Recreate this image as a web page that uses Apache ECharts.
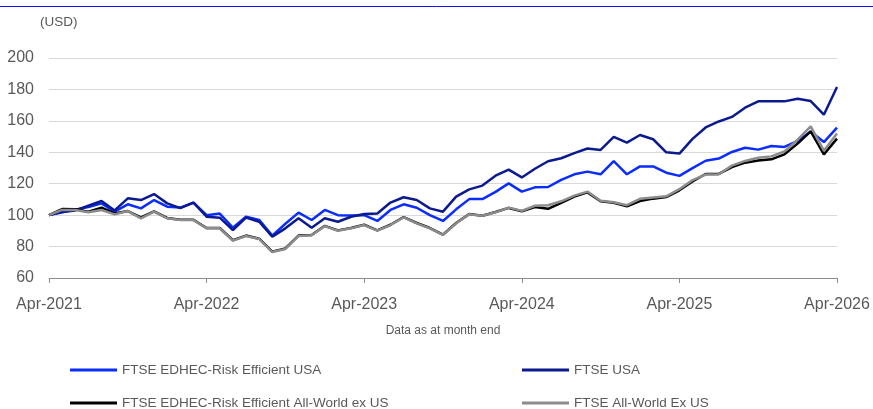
<!DOCTYPE html>
<html>
<head>
<meta charset="utf-8">
<script src="https://cdn.jsdelivr.net/npm/echarts@6/dist/echarts.min.js"></script>
<style>
  html, body { margin: 0; padding: 0; background: #fff; }
  #chart { width: 873px; height: 409px; }
</style>
</head>
<body>
<div id="chart"></div>
<script>
// month labels Apr-2021 .. Apr-2026
var monthNames = ['Jan', 'Feb', 'Mar', 'Apr', 'May', 'Jun', 'Jul', 'Aug', 'Sep', 'Oct', 'Nov', 'Dec'];
var months = [];
for (var k = 0; k <= 60; k++) {
    var m = (3 + k) % 12;
    var y = 2021 + Math.floor((3 + k) / 12);
    months.push(monthNames[m] + '-' + y);
}

var yTicks = [60, 80, 100, 120, 140, 160, 180, 200];

var seriesNames = [
    'FTSE EDHEC-Risk Efficient USA',
    'FTSE USA',
    'FTSE EDHEC-Risk Efficient All-World ex US',
    'FTSE All-World Ex US'
];

// FTSE EDHEC-Risk Efficient USA
var edhecUsa = [
    100, 101.8, 103.5, 105.2, 107.5, 102.2, 106.9, 104.3, 109.6, 105.4, 104.8, 108,
    100, 101, 92, 99, 97, 87, 94.5, 101.6, 96.9, 103.3, 100, 99.7,
    100, 96.3, 103.3, 106.9, 104.7, 100, 96.3, 103.7, 110.2, 110.2, 114.8, 120.2,
    115, 117.7, 117.9, 122.4, 126, 127.7, 126, 134.4, 126, 131, 131, 127,
    125, 129.9, 134.6, 136, 140.2, 142.9, 141.7, 144, 143.4, 147.2, 153.3, 146.5,
    155.7
];

// FTSE USA
var ftseUsa = [
    100, 102, 103, 106, 109, 103, 110.7, 109.6, 113.4, 107.5, 104.5, 108,
    99, 98.4, 90.5, 98.4, 95.8, 86.3, 91.6, 98, 92, 98, 95.8, 99,
    100.7, 101.1, 108, 111.4, 109.6, 104.3, 102.2, 111.8, 116.4, 118.8, 125.1, 129,
    124, 129.5, 134.3, 136.2, 139.5, 142.4, 141.5, 149.8, 146.2, 151, 148.3, 140,
    139.2, 148.5, 155.8, 159.6, 162.5, 168.4, 172.4, 172.4, 172.4, 174.1, 172.6, 163.9,
    181.5
];

// FTSE EDHEC-Risk Efficient All-World ex US
var edhecAwxUs = [
    100, 103.9, 103.7, 102.2, 104.8, 101.1, 102.6, 98.6, 102.4, 98.2, 97, 97,
    91.8, 91.8, 84, 87, 85, 76.8, 78.8, 87, 87.4, 93.2, 90.3, 91.8,
    93.9, 90.3, 93.9, 98.8, 95, 91.8, 87.6, 95, 100.7, 99.6, 102, 104.6,
    102.5, 105.2, 104, 107.8, 111.8, 114.5, 108.8, 107.9, 105.6, 109, 110.5, 111.5,
    115.8, 121.5, 126.2, 126.2, 130.6, 133.4, 134.8, 135.5, 138.7, 145.5, 153.3, 138.7,
    148.7
];

// FTSE All-World Ex US
var ftseAwxUs = [
    100, 103.3, 103.3, 101.8, 103.3, 100.5, 102.6, 98, 102.2, 98, 96.9, 96.9,
    91.6, 91.6, 83.8, 86.7, 84.8, 76.5, 78.5, 86.8, 87.2, 93, 90.1, 91.6,
    93.7, 90.1, 93.7, 98.6, 94.8, 91.6, 87.4, 94.8, 100.5, 99.6, 101.8, 104.8,
    102.7, 106, 106.3, 108.8, 112.4, 115, 109.2, 108.2, 106.3, 110.4, 111.3, 112,
    116.5, 122.3, 125.8, 126, 131.5, 134.5, 136.5, 137.4, 140.5, 148, 156.5, 141,
    152
];

var colors = ['#0a2cff', '#0b1a8f', '#000000', '#8c8c8c'];
var textColor = '#595959';
var fontFamily = 'Liberation Sans, Arial, sans-serif';

var chart = echarts.init(document.getElementById('chart'));

function mkLegend(name, left, top) {
    return {
        data: [name],
        left: left,
        top: top,
        icon: 'rect',
        itemWidth: 47,
        itemHeight: 3,
        itemGap: 6,
        textStyle: { color: textColor, fontSize: 13.5, fontFamily: fontFamily }
    };
}

function mkSeries(i, data) {
    return {
        name: seriesNames[i],
        type: 'line',
        data: data,
        symbol: 'none',
        animation: false,
        lineStyle: { width: 2.5, color: colors[i] },
        itemStyle: { color: colors[i] }
    };
}

chart.setOption({
    animation: false,
    graphic: [{
        type: 'line',
        shape: { x1: 0, y1: 6.5, x2: 873, y2: 6.5 },
        style: { stroke: '#1010ff', lineWidth: 1 }
    }, {
        type: 'text',
        left: 40,
        top: 15,
        style: { text: '(USD)', fill: textColor, fontSize: 13.5, fontFamily: fontFamily }
    }],
    legend: [
        mkLegend(seriesNames[0], 65, 358),
        mkLegend(seriesNames[1], 517, 358),
        mkLegend(seriesNames[2], 65, 391),
        mkLegend(seriesNames[3], 517, 391)
    ],
    grid: { left: 49, right: 36, top: 58, bottom: 131, containLabel: false },
    xAxis: {
        type: 'category',
        data: months,
        boundaryGap: false,
        name: 'Data as at month end',
        nameLocation: 'middle',
        nameGap: 47,
        nameTextStyle: { color: textColor, fontSize: 12, fontFamily: fontFamily },
        axisLine: { lineStyle: { color: '#8c8c8c', width: 1 } },
        axisTick: { interval: 11, length: 5, lineStyle: { color: '#8c8c8c' } },
        axisLabel: {
            interval: 11,
            color: textColor,
            fontSize: 16,
            fontFamily: fontFamily,
            margin: 19,
            showMaxLabel: true
        },
        splitLine: { show: false }
    },
    yAxis: {
        type: 'value',
        min: yTicks[0],
        max: yTicks[yTicks.length - 1],
        interval: 20,
        axisLine: { show: false },
        axisTick: { show: false },
        axisLabel: { color: textColor, fontSize: 16, fontFamily: fontFamily, margin: 15 },
        splitLine: { lineStyle: { color: '#d9d9d9', width: 1 } }
    },
    series: [
        mkSeries(0, edhecUsa),
        mkSeries(1, ftseUsa),
        mkSeries(2, edhecAwxUs),
        mkSeries(3, ftseAwxUs)
    ]
});
</script>
</body>
</html>
